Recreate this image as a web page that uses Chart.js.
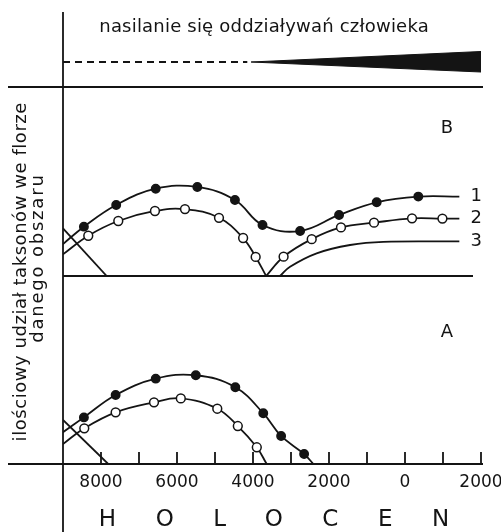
<!DOCTYPE html>
<html>
<head>
<meta charset="utf-8">
<script src="https://cdn.jsdelivr.net/npm/chart.js@4/dist/chart.umd.min.js"></script>
<style>
  html, body { margin: 0; padding: 0; background: #fff; }
  #wrap { width: 501px; height: 532px; position: relative; }
</style>
</head>
<body>
<div id="wrap"><canvas id="holocen"></canvas></div>
<script>
// years: negative = BC, positive = AD
const labelYears = [-8000, -6000, -4000, -2000, 0, 2000];
const minorTickYears = [-8000, -7000, -6000, -5000, -4000, -3000, -2000, -1000, 0, 1000, 2000];

// human impact band (top strip)
const dashYears = [-9000, -4150];
const dashValues = [1, 1];
const wedgeYears = [-4050, 2000];
const wedgeTop = [1, 1.42];
const wedgeBottom = [1, 0.6];

// panel B
const b1Years = [-9000, -8450, -7600, -6560, -5465, -4475, -3750, -2760, -1735, -745, 350, 1430];
const b1Values = [1.69, 2.61, 3.76, 4.62, 4.71, 4.02, 2.70, 2.38, 3.23, 3.90, 4.20, 4.20];
const b2LeftYears = [-9000, -8335, -7545, -6580, -5790, -4895, -4260, -3930, -3655];
const b2LeftValues = [1.15, 2.13, 2.91, 3.44, 3.54, 3.08, 2.01, 1.01, 0];
const b2RightYears = [-3655, -3195, -2455, -1685, -815, 185, 985, 1430];
const b2RightValues = [0, 1.02, 1.95, 2.57, 2.82, 3.05, 3.04, 3.04];
const b3Years = [-3290, -3025, -2325, -1445, -570, 1430];
const b3Values = [0, 0.49, 1.20, 1.64, 1.81, 1.83];
const bOldYears = [-9000, -7850];
const bOldValues = [2.52, 0];

// panel A
const a1Years = [-9000, -8450, -7615, -6560, -5505, -4465, -3730, -3260, -2655, -2410];
const a1Values = [1.69, 2.48, 3.67, 4.54, 4.72, 4.08, 2.70, 1.49, 0.53, 0];
const a2Years = [-9000, -8440, -7615, -6605, -5900, -4940, -4400, -3900, -3640];
const a2Values = [1.06, 1.90, 2.75, 3.28, 3.49, 2.94, 2.02, 0.89, 0];
const aOldYears = [-9000, -7810];
const aOldValues = [2.34, 0];

const INK = '#141414';
const FONT = 'DejaVu Sans';
const LW = 1.8;

function pts(xs, ys){
    return xs.map((x, i) => ({x: x, y: ys[i]}));
}

//line with markers, no marker on the two end points
function marked(axis, xs, ys, open){
    return {
        yAxisID: axis,
        data: pts(xs, ys),
        borderColor: INK,
        borderWidth: LW,
        tension: 0.4,
        fill: false,
        pointRadius: c => (c.dataIndex === 0 || c.dataIndex === xs.length - 1) ? 0 : (open ? 4.4 : 4.2),
        pointBackgroundColor: open ? '#fff' : INK,
        pointBorderColor: INK,
        pointBorderWidth: 1.5
    };
}

function plain(axis, xs, ys, tension){
    return {
        yAxisID: axis,
        data: pts(xs, ys),
        borderColor: INK,
        borderWidth: LW,
        tension: tension,
        fill: false,
        pointRadius: 0
    };
}

function spaced(ctx, text, cx, cy, spacing){
    ctx.letterSpacing = '0px';
    const w = ctx.measureText(text).width + spacing * (text.length - 1);
    ctx.letterSpacing = spacing + 'px';
    ctx.textAlign = 'left';
    ctx.fillText(text, cx - w / 2, cy);
    ctx.letterSpacing = '0px';
}

const frame = {
    id: 'frame',
    beforeDatasetsDraw(chart){
        const {ctx, chartArea, scales} = chart;
        const x0 = scales.x.getPixelForValue(-9000);
        const topY = scales.yTop.getPixelForValue(0);
        const bY = scales.yB.getPixelForValue(0);
        const aY = scales.yA.getPixelForValue(0);
        ctx.save();
        ctx.strokeStyle = INK;
        ctx.lineWidth = LW;
        ctx.beginPath();
        ctx.moveTo(x0, chartArea.top);
        ctx.lineTo(x0, chart.height);
        ctx.moveTo(8, topY);
        ctx.lineTo(chartArea.right + 2, topY);
        ctx.moveTo(x0, bY);
        ctx.lineTo(chartArea.right - 8, bY);
        ctx.moveTo(8, aY);
        ctx.lineTo(chartArea.right + 2, aY);
        minorTickYears.forEach(v => {
            const px = scales.x.getPixelForValue(v);
            ctx.moveTo(px, aY);
            ctx.lineTo(px, aY - 12);
        });
        ctx.stroke();
        ctx.restore();
    },
    afterDraw(chart){
        const {ctx} = chart;
        ctx.save();
        ctx.fillStyle = INK;
        ctx.textBaseline = 'alphabetic';
        ctx.font = '18px "' + FONT + '"';
        spaced(ctx, 'nasilanie się oddziaływań człowieka', 264, 31.5, 0.2);

        ctx.textBaseline = 'middle';
        ctx.save();
        ctx.translate(21, 272);
        ctx.rotate(-Math.PI / 2);
        spaced(ctx, 'ilościowy udział taksonów we florze', 0, 0, 0.55);
        ctx.restore();
        ctx.save();
        ctx.translate(38, 259);
        ctx.rotate(-Math.PI / 2);
        spaced(ctx, 'danego obszaru', 0, 0, 1.8);
        ctx.restore();

        ctx.textAlign = 'center';
        ctx.fillText('B', 447, 128);
        ctx.fillText('A', 447, 332);

        //series numbers next to line ends in panel B
        [[0, '1'], [2, '2'], [3, '3']].forEach(([i, t]) => {
            const pts = chart.getDatasetMeta(i).data;
            const p = pts[pts.length - 1];
            ctx.fillText(t, p.x + 17, p.y);
        });

        ctx.font = '23px "' + FONT + '"';
        spaced(ctx, 'HOLOCEN', 274, 520, 39.5);
        ctx.restore();
    }
};

const hiddenY = (weight, max) => ({
    type: 'linear',
    position: 'left',
    stack: 'panels',
    stackWeight: weight,
    min: 0,
    max: max,
    ticks: { display: false },
    grid: { display: false, drawTicks: false },
    border: { display: false }
});

const chart = new Chart(document.getElementById('holocen'), {
    type: 'line',
    data: {
        datasets: [
            marked('yB', b1Years, b1Values, false),
            marked('yB', b2LeftYears, b2LeftValues, true),
            marked('yB', b2RightYears, b2RightValues, true),
            plain('yB', b3Years, b3Values, 0.4),
            plain('yB', bOldYears, bOldValues, 0),
            marked('yA', a1Years, a1Values, false),
            marked('yA', a2Years, a2Values, true),
            plain('yA', aOldYears, aOldValues, 0),
            Object.assign(plain('yTop', dashYears, dashValues, 0), { borderDash: [7, 5] }),
            Object.assign(plain('yTop', wedgeYears, wedgeTop, 0), { fill: '+1', backgroundColor: INK, borderWidth: 1 }),
            Object.assign(plain('yTop', wedgeYears, wedgeBottom, 0), { borderWidth: 1 })
        ]
    },
    options: {
        responsive: true,
        maintainAspectRatio: false,
        animation: false,
        layout: { padding: { left: 63, right: 20, top: 12, bottom: 0 } },
        plugins: {
            legend: { display: false },
            tooltip: { enabled: false }
        },
        scales: {
            x: {
                type: 'linear',
                min: -9000,
                max: 2000,
                grid: { display: false, drawTicks: false },
                border: { display: false },
                afterBuildTicks: s => { s.ticks = labelYears.map(v => ({ value: v })); },
                afterFit: s => { s.height = 68; s.paddingLeft = 0; s.paddingRight = 0; },
                ticks: {
                    autoSkip: false,
                    maxRotation: 0,
                    padding: 8,
                    color: INK,
                    font: { family: FONT, size: 17 },
                    callback: v => String(Math.abs(v))
                }
            },
            // left stack is laid out last-defined on top
            yA: hiddenY(188, 10),
            yB: hiddenY(189, 10),
            yTop: hiddenY(75, 3)
        }
    },
    plugins: [frame]
});
</script>
</body>
</html>
